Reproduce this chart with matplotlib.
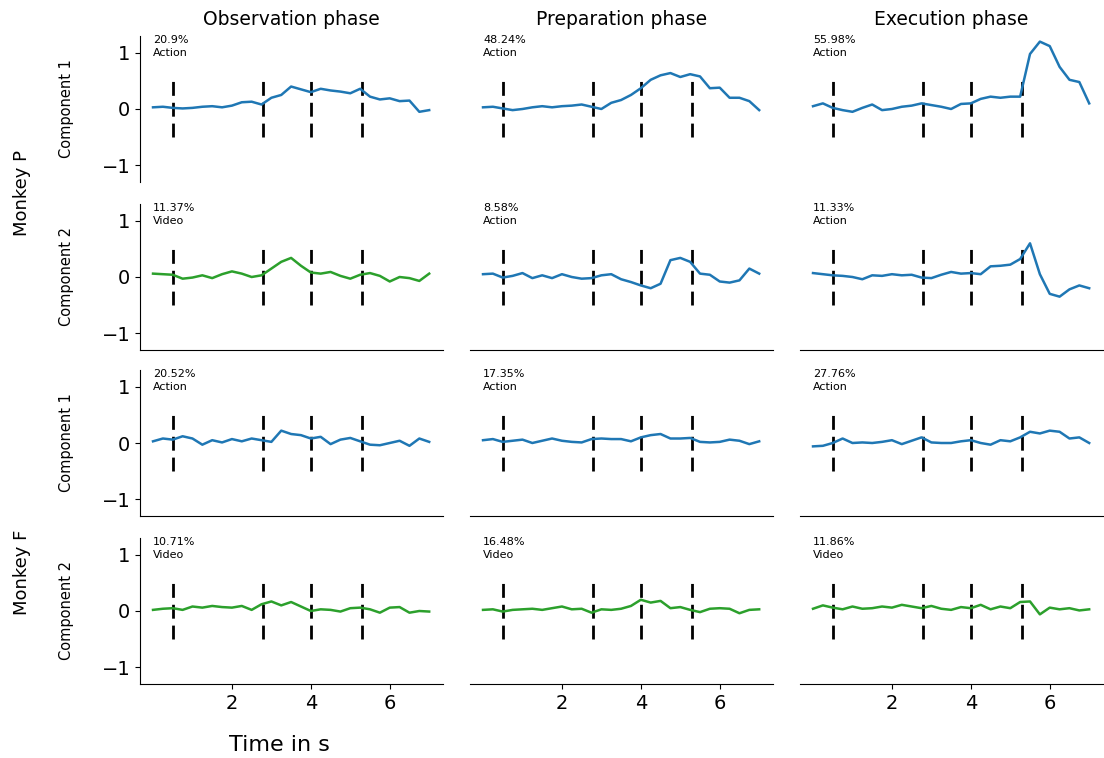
import matplotlib
matplotlib.use('Agg')
import matplotlib.pyplot as plt
import numpy as np

# Time axis (s) and component time courses
t = np.arange(0, 7.01, 0.25)

phases = ['Observation phase', 'Preparation phase', 'Execution phase']
row_labels = ['Component 1', 'Component 2', 'Component 1', 'Component 2']
events = [0.5, 2.8, 4.0, 5.3]

p1_obs = [0.03, 0.04, 0.02, 0.01, 0.02, 0.04, 0.05, 0.03, 0.06, 0.12, 0.13, 0.08, 0.20, 0.25, 0.40,
          0.35, 0.30, 0.36, 0.33, 0.31, 0.28, 0.36, 0.22, 0.17, 0.19, 0.14, 0.15, -0.05, -0.02]
p1_prep = [0.03, 0.04, 0.01, -0.02, 0.00, 0.03, 0.05, 0.03, 0.05, 0.06, 0.08, 0.04, 0.00, 0.11, 0.16,
           0.25, 0.37, 0.52, 0.60, 0.64, 0.57, 0.62, 0.58, 0.37, 0.38, 0.20, 0.20, 0.14, -0.02]
p1_exec = [0.05, 0.10, 0.02, -0.02, -0.05, 0.02, 0.08, -0.02, 0.00, 0.04, 0.06, 0.10, 0.07, 0.04, 0.00,
           0.09, 0.10, 0.18, 0.22, 0.20, 0.22, 0.22, 0.98, 1.20, 1.12, 0.75, 0.52, 0.48, 0.10]

p2_obs = [0.06, 0.05, 0.04, -0.03, -0.01, 0.03, -0.02, 0.05, 0.10, 0.06, 0.00, 0.03, 0.15, 0.27, 0.34,
          0.20, 0.08, 0.06, 0.09, 0.02, -0.03, 0.04, 0.07, 0.02, -0.08, 0.00, -0.02, -0.07, 0.06]
p2_prep = [0.05, 0.06, -0.01, 0.02, 0.07, -0.02, 0.03, -0.02, 0.05, 0.00, -0.03, -0.02, 0.03, 0.05, -0.04,
           -0.09, -0.15, -0.20, -0.12, 0.30, 0.34, 0.27, 0.06, 0.04, -0.08, -0.10, -0.06, 0.15, 0.06]
p2_exec = [0.07, 0.05, 0.03, 0.02, 0.00, -0.04, 0.03, 0.02, 0.05, 0.03, 0.04, -0.01, -0.02, 0.04, 0.09,
           0.06, 0.07, 0.05, 0.19, 0.20, 0.22, 0.32, 0.60, 0.05, -0.30, -0.35, -0.22, -0.15, -0.20]

f1_obs = [0.03, 0.08, 0.06, 0.12, 0.08, -0.03, 0.05, 0.01, 0.07, 0.03, 0.08, 0.05, 0.02, 0.22, 0.16,
          0.14, 0.08, 0.11, -0.02, 0.06, 0.09, 0.03, -0.03, -0.04, 0.00, 0.04, -0.05, 0.08, 0.02]
f1_prep = [0.05, 0.07, 0.02, 0.04, 0.06, 0.00, 0.04, 0.08, 0.04, 0.02, 0.01, 0.07, 0.08, 0.07, 0.07,
           0.03, 0.10, 0.14, 0.16, 0.08, 0.08, 0.09, 0.02, 0.01, 0.02, 0.06, 0.04, -0.02, 0.03]
f1_exec = [-0.06, -0.05, 0.00, 0.08, 0.00, 0.01, 0.00, 0.02, 0.05, -0.02, 0.04, 0.10, 0.01, 0.00, 0.00,
           0.03, 0.05, 0.00, -0.03, 0.05, 0.03, 0.10, 0.20, 0.17, 0.22, 0.20, 0.08, 0.10, 0.00]

f2_obs = [0.02, 0.04, 0.05, 0.02, 0.08, 0.06, 0.09, 0.07, 0.06, 0.09, 0.02, 0.12, 0.17, 0.10, 0.16,
          0.08, 0.00, 0.03, 0.02, -0.01, 0.05, 0.06, 0.03, -0.03, 0.06, 0.07, -0.03, 0.00, -0.01]
f2_prep = [0.02, 0.03, -0.01, 0.02, 0.03, 0.04, 0.02, 0.05, 0.08, 0.03, 0.04, -0.03, 0.03, 0.02, 0.04,
           0.09, 0.20, 0.15, 0.18, 0.05, 0.07, 0.02, -0.02, 0.04, 0.05, 0.04, -0.04, 0.02, 0.03]
f2_exec = [0.04, 0.10, 0.06, 0.03, 0.08, 0.04, 0.05, 0.08, 0.06, 0.11, 0.08, 0.05, 0.09, 0.04, 0.02,
           0.07, 0.05, 0.11, 0.03, 0.08, 0.05, 0.16, 0.17, -0.06, 0.06, 0.03, 0.05, 0.01, 0.03]

curves = [[p1_obs, p1_prep, p1_exec],
          [p2_obs, p2_prep, p2_exec],
          [f1_obs, f1_prep, f1_exec],
          [f2_obs, f2_prep, f2_exec]]

variance = [['20.9%', '48.24%', '55.98%'],
            ['11.37%', '8.58%', '11.33%'],
            ['20.52%', '17.35%', '27.76%'],
            ['10.71%', '16.48%', '11.86%']]
kinds = [['Action', 'Action', 'Action'],
         ['Video', 'Action', 'Action'],
         ['Action', 'Action', 'Action'],
         ['Video', 'Video', 'Video']]
colors = {'Action': '#1f77b4', 'Video': '#2ca02c'}

# ── Layout (pixel boxes converted to figure fractions) ─────────
W, H = 1104, 758
fig = plt.figure(figsize=(W / 100, H / 100), dpi=100)
col_left = [140, 470, 800]
col_w = 303
row_top = [36, 204, 370, 538]
row_h = 146

for r in range(4):
    for c in range(3):
        ax = fig.add_axes([col_left[c] / W, 1 - (row_top[r] + row_h) / H, col_w / W, row_h / H])
        kind = kinds[r][c]
        ax.plot(t, curves[r][c], color=colors[kind], lw=1.8, zorder=3)
        ax.vlines(events, -0.5, 0.5, colors='k', linestyles=(0, (5, 2.5)), lw=2, zorder=2)
        ax.text(0, 1.32, f'{variance[r][c]}\n{kind}', fontsize=8, va='top', ha='left',
                linespacing=1.35)
        ax.set_xlim(-0.33, 7.35)
        ax.set_ylim(-1.3, 1.3)
        ax.spines['top'].set_visible(False)
        ax.spines['right'].set_visible(False)
        if c == 0:
            ax.set_yticks([-1, 0, 1])
            ax.tick_params(axis='y', labelsize=14)
            ax.set_ylabel(row_labels[r], fontsize=10.5, labelpad=20)
        else:
            ax.spines['left'].set_visible(False)
            ax.set_yticks([])
        if r == 0:
            ax.spines['bottom'].set_visible(False)
            ax.set_title(phases[c], fontsize=13.5, pad=8)
        if r == 3:
            ax.set_xticks([2, 4, 6])
            ax.tick_params(axis='x', labelsize=14)
        else:
            ax.set_xticks([])

fig.text(279 / W, 1 - 745 / H, 'Time in s', fontsize=16, ha='center', va='center')
fig.text(22 / W, 1 - 193 / H, 'Monkey P', fontsize=13, rotation=90, ha='center', va='center')
fig.text(22 / W, 1 - 572 / H, 'Monkey F', fontsize=13, rotation=90, ha='center', va='center')

fig.savefig('out.png', dpi=100)
print('saved out.png')
